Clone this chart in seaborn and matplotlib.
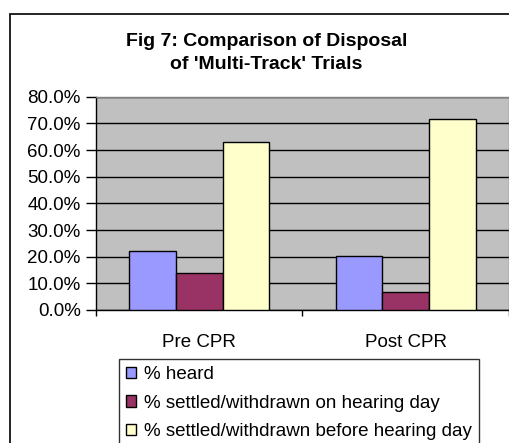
import matplotlib
matplotlib.use("Agg")
import matplotlib.pyplot as plt
import seaborn as sns
import pandas as pd
from matplotlib.patches import Rectangle
from matplotlib.ticker import FixedLocator, FuncFormatter

periods = ["Pre CPR", "Post CPR"]
series = ["% heard", "% settled/withdrawn on hearing day", "% settled/withdrawn before hearing day"]
heard = [22.2, 20.3]
on_day = [14.0, 6.9]
before_day = [63.0, 71.8]
colors = ["#9999FF", "#993366", "#FFFFCC"]
yticks = [0, 10, 20, 30, 40, 50, 60, 70, 80]

rows = []
for s, vals in zip(series, [heard, on_day, before_day]):
    for p, v in zip(periods, vals):
        rows.append({"period": p, "series": s, "value": v})
df = pd.DataFrame(rows)

sns.set_style("white")
plt.rcParams["font.family"] = ["Liberation Sans", "DejaVu Sans"]
plt.rcParams["text.color"] = "black"
plt.rcParams["xtick.color"] = "black"
plt.rcParams["ytick.color"] = "black"

W, H = 510, 443
FS = 13.5
fig = plt.figure(figsize=(W / 100, H / 100), dpi=100)
fig.patch.set_facecolor("white")

# outer chart border
fig.patches.append(Rectangle((10 / W, -0.2), 1.5, 1 - 14 / H + 0.2, transform=fig.transFigure,
                             fill=False, edgecolor="black", linewidth=1.2, zorder=0))

ax = fig.add_axes([96 / W, 1 - 310 / H, (509 - 96) / W, (310 - 96.7) / H])
ax.set_facecolor("#C0C0C0")

sns.barplot(data=df, x="period", y="value", hue="series", order=periods, hue_order=series,
            palette=colors, saturation=1, edgecolor="black", linewidth=1.0, width=0.678,
            ax=ax, zorder=3)

ax.set_xlim(-0.5, 1.5)
ax.set_ylim(0, 80)
ax.yaxis.set_major_locator(FixedLocator(yticks))
ax.yaxis.set_major_formatter(FuncFormatter(lambda v, p: f"{v:.1f}%"))
ax.grid(axis="y", color="black", linewidth=1.0, zorder=1)
ax.set_axisbelow(True)
for b in ax.patches:
    b.set_zorder(3)

ax.set_xlabel("")
ax.set_ylabel("")
ax.tick_params(axis="y", direction="out", length=7, width=1, color="black",
               labelsize=FS, pad=4, left=True, labelcolor="black")
ax.tick_params(axis="x", which="major", length=0, labelsize=FS, pad=17, labelcolor="black")
ax.set_xticks([-0.5, 0.5, 1.5], minor=True)
ax.tick_params(axis="x", which="minor", direction="out", length=4, width=1, color="black", bottom=True)

for side in ["left", "bottom"]:
    ax.spines[side].set_color("black")
    ax.spines[side].set_linewidth(1.0)
for side in ["top", "right"]:
    ax.spines[side].set_color("#808080")
    ax.spines[side].set_linewidth(1.0)
    ax.spines[side].set_visible(True)

fig.text(0.5 * (124 + 409) / W, 1 - 53 / H, "Fig 7: Comparison of Disposal\nof 'Multi-Track' Trials",
         ha="center", va="center", fontsize=14, fontweight="bold", linespacing=1.5, color="black")

leg = ax.legend(loc="upper left", bbox_to_anchor=(119 / W, 1 - 359 / H), bbox_transform=fig.transFigure,
                frameon=True, fancybox=False, edgecolor="black", fontsize=13.5,
                handlelength=0.55, handleheight=0.55, handletextpad=0.4, labelspacing=0.62,
                borderpad=0.38, borderaxespad=0, title=None)
leg.get_frame().set_linewidth(1.0)
for t in leg.get_texts():
    t.set_color("black")
for h in leg.legend_handles:
    h.set_edgecolor("black")
    h.set_linewidth(1.0)

fig.savefig("out.png", dpi=100)
